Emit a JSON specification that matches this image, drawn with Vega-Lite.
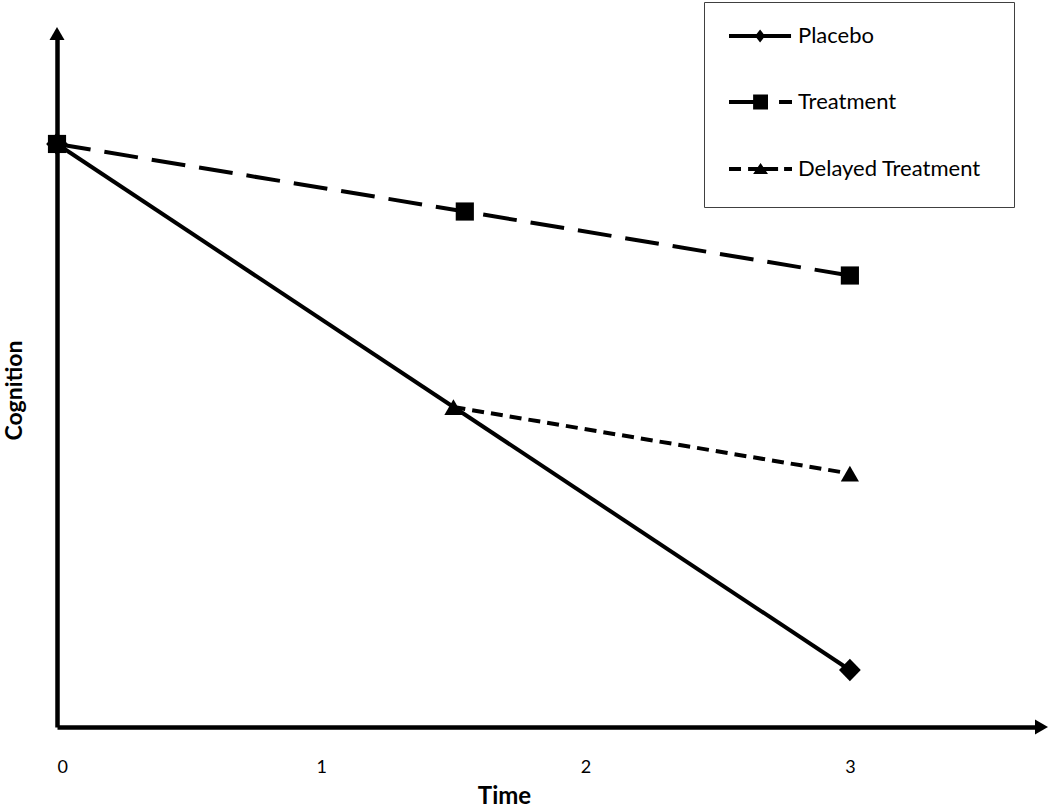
{
  "$schema": "https://vega.github.io/schema/vega-lite/v6.json",
  "autosize": {"type": "none"},
  "width": 980,
  "height": 692,
  "padding": {"left": 57, "top": 35, "right": 13, "bottom": 80},
  "background": "white",
  "config": {
    "font": "Lato",
    "view": {"stroke": null}
  },
  "data": {
    "values": [
      {"series": "Placebo", "Time": 0, "Cognition": 83.29},
      {"series": "Placebo", "Time": 3, "Cognition": 8.14},
      {"series": "Treatment", "Time": 0, "Cognition": 83.29},
      {"series": "Treatment", "Time": 1.543, "Cognition": 73.64},
      {"series": "Treatment", "Time": 3, "Cognition": 64.5},
      {"series": "Delayed Treatment", "Time": 1.5, "Cognition": 45.71},
      {"series": "Delayed Treatment", "Time": 3, "Cognition": 36.21}
    ]
  },
  "encoding": {
    "x": {
      "field": "Time", "type": "quantitative",
      "scale": {"domain": [0, 3.708], "nice": false, "zero": false},
      "axis": {
        "title": "Time", "values": [0, 1, 2, 3], "format": "d",
        "ticks": false, "grid": false,
        "domainColor": "black", "domainWidth": 4.5,
        "labelFontSize": 18, "labelColor": "black", "labelPadding": 40, "labelBaseline": "middle",
        "titleFontSize": 24, "titleFontWeight": "bold", "titleColor": "black",
        "titleX": 447, "titleY": 69, "titleBaseline": "middle", "titleAlign": "center"
      }
    },
    "y": {
      "field": "Cognition", "type": "quantitative",
      "scale": {"domain": [0, 98.857], "nice": false, "zero": false},
      "axis": {
        "title": "Cognition", "labels": false, "ticks": false, "grid": false,
        "domainColor": "black", "domainWidth": 4.5,
        "titleFontSize": 23, "titleFontWeight": "bold", "titleColor": "black",
        "titleX": -43, "titleY": 355, "titleAngle": 270, "titleBaseline": "middle", "titleAlign": "center"
      }
    }
  },
  "layer": [
    {
      "transform": [{"filter": "datum.series === 'Placebo'"}],
      "mark": {"type": "line", "color": "black", "strokeWidth": 4, "strokeCap": "butt"},
      "encoding": {}
    },
    {
      "transform": [{"filter": "datum.series === 'Treatment'"}],
      "mark": {"type": "line", "color": "black", "strokeWidth": 4, "strokeCap": "butt", "strokeDash": [34, 14]},
      "encoding": {}
    },
    {
      "transform": [{"filter": "datum.series === 'Delayed Treatment'"}],
      "mark": {"type": "line", "color": "black", "strokeWidth": 4, "strokeCap": "butt", "strokeDash": [12, 7]},
      "encoding": {}
    },
    {
      "transform": [{"filter": "datum.series === 'Placebo'"}],
      "mark": {"type": "point", "shape": "M-1.2,0L0,-1.25L1.2,0L0,1.25Z", "filled": true, "color": "black", "opacity": 1, "strokeWidth": 0, "size": 330},
      "encoding": {}
    },
    {
      "transform": [{"filter": "datum.series === 'Treatment'"}],
      "mark": {"type": "point", "shape": "square", "filled": true, "color": "black", "opacity": 1, "strokeWidth": 0, "size": 330},
      "encoding": {}
    },
    {
      "transform": [{"filter": "datum.series === 'Delayed Treatment'"}],
      "mark": {"type": "point", "shape": "triangle-up", "filled": true, "color": "black", "opacity": 1, "strokeWidth": 0, "size": 330},
      "encoding": {}
    },
    {
      "mark": {"type": "point", "filled": true, "color": "black", "size": 0},
      "encoding": {
        "shape": {
          "field": "series", "type": "nominal",
          "scale": {
            "domain": ["Placebo", "Treatment", "Delayed Treatment"],
            "range": [
              "M-0.375,-0.083H2.21V0.083H-0.375ZM0.92,-0.27L1.13,0L0.92,0.27L0.71,0Z",
              "M-0.375,-0.083H0.72V0.083H-0.375ZM1.71,-0.083H2.25V0.083H1.71ZM0.63,-0.31H1.25V0.31H0.63Z",
              "M-0.375,-0.083H0.125V0.083H-0.375ZM0.42,-0.083H1.67V0.083H0.42ZM1.92,-0.083H2.25V0.083H1.92ZM0.94,-0.25L1.25,0.21H0.63ZM10.8,0.9L10.8,0.9"
            ]
          },
          "legend": {
            "orient": "none", "legendX": 647, "legendY": -33, "title": null,
            "padding": 8, "symbolSize": 2304, "rowPadding": 25, "labelOffset": 34,
            "labelFontSize": 22, "labelFont": "Lato", "labelColor": "black", "labelLimit": 400,
            "strokeColor": "#404040", "fillColor": "white",
            "symbolFillColor": "black", "symbolStrokeColor": "black", "symbolStrokeWidth": 4, "symbolOpacity": 1
          }
        }
      }
    },
    {
      "data": {"values": [{"Time": 3.725, "Cognition": 0}]},
      "mark": {"type": "point", "shape": "triangle-right", "filled": true, "color": "black", "opacity": 1, "size": 225, "strokeWidth": 0},
      "encoding": {}
    },
    {
      "data": {"values": [{"Time": 0, "Cognition": 99.07}]},
      "mark": {"type": "point", "shape": "triangle-up", "filled": true, "color": "black", "opacity": 1, "size": 225, "strokeWidth": 0},
      "encoding": {}
    }
  ]
}
